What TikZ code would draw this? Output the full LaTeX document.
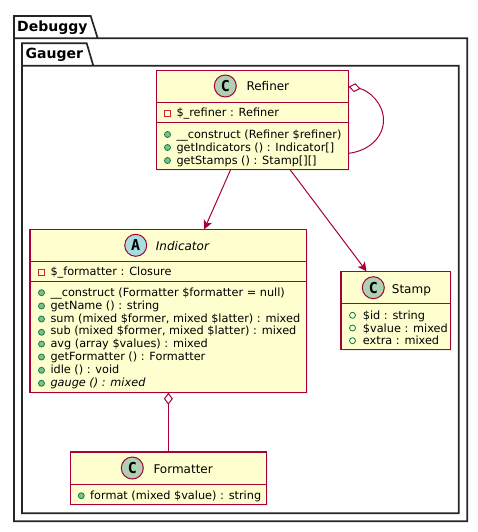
\documentclass[tikz,border=0pt]{standalone}
\usepackage{fontspec}
\setmainfont{DejaVu Sans}
\setmonofont{DejaVu Sans Mono}
\usetikzlibrary{arrows.meta}
\usetikzlibrary{shadows}
\definecolor{umlborder}{HTML}{A80036}
\definecolor{umlfill}{HTML}{FEFECE}
\definecolor{classspot}{HTML}{ADD1B2}
\definecolor{abstractspot}{HTML}{A9DCDF}
\definecolor{pubfill}{HTML}{84BE84}
\definecolor{publine}{HTML}{038048}
\definecolor{privline}{HTML}{C82930}
\tikzset{
	package/.style={draw=black!85, line width=1.7pt, line join=miter},
	packagename/.style={anchor=base west, inner sep=0pt, font=\fontsize{14}{14}\selectfont\bfseries},
	classbox/.style={draw=umlborder, fill=umlfill, line width=1.5pt, anchor=north west, outer sep=0pt, inner sep=0pt, drop shadow={shadow xshift=1.5pt, shadow yshift=-1.5pt, opacity=0.12}},
	classline/.style={draw=umlborder, line width=1.5pt},
	spot/.style={circle, draw=umlborder, line width=1pt, minimum size=22pt, inner sep=0pt, outer sep=0pt, font=\fontsize{15}{15}\selectfont\ttfamily\bfseries},
	classname/.style={anchor=base west, inner sep=0pt, font=\fontsize{12}{12}\selectfont},
	member/.style={anchor=base west, inner sep=0pt, font=\fontsize{11.3}{11.3}\selectfont},
	pubmark/.style={circle, draw=publine, fill=pubfill, line width=0.8pt, minimum size=6pt, inner sep=0pt},
	fieldmark/.style={circle, draw=publine, line width=0.8pt, minimum size=6pt, inner sep=0pt},
	privmark/.style={rectangle, draw=privline, line width=0.8pt, minimum size=6pt, inner sep=0pt},
	assoc/.style={draw=umlborder, line width=1pt, -{Stealth[length=9pt,width=9pt,inset=2.5pt]}},
	aggr/.style={draw=umlborder, line width=1pt, {Diamond[open,fill=white,length=12pt,width=9pt,line width=1pt]}-},
}
\begin{document}
\begin{tikzpicture}[x=1pt,y=-1pt]
	\useasboundingbox (0,0) rectangle (478,532);

	% packages
	\draw[package] (14,38.3) -- (14,16) -- (90.7,16) -- (97.7,38.3) -- (14,38.3) -- (14,521.3) -- (467.3,521.3) -- (467.3,38.3) -- (97.7,38.3);
	\node[packagename] (debuggyName) at (17,32) {Debuggy};
	\draw[package] (22,65.7) -- (22,43.3) -- (86.7,43.3) -- (93.3,65.7) -- (22,65.7) -- (22,513.3) -- (458.7,513.3) -- (458.7,65.7) -- (93.3,65.7);
	\node[packagename] (gaugerName) at (25.5,59) {Gauger};

	% Refiner
	\node[classbox, minimum width=192.2pt, minimum height=99pt] (Refiner) at (156.5,70.3) {};
	\draw[classline] ([yshift=-32pt]Refiner.north west) -- ([yshift=-32pt]Refiner.north east);
	\draw[classline] ([yshift=-52pt]Refiner.north west) -- ([yshift=-52pt]Refiner.north east);
	\node[spot, fill=classspot] (refinerSpot) at (225.3,86) {C};
	\node[classname] (refinerName) at (246.3,91) {Refiner};
	\node[privmark] (refinerM1) at (167.3,113.3) {};
	\node[member] (refinerT1) at (176.3,116.5) {\$\_refiner : Refiner};
	\node[pubmark] (refinerM2) at (167.5,134.5) {};
	\node[member] (refinerT2) at (176.3,138.5) {\_\_construct (Refiner \$refiner)};
	\node[pubmark] (refinerM3) at (167.5,147.5) {};
	\node[member] (refinerT3) at (176.3,151.5) {getIndicators () : Indicator[]};
	\node[pubmark] (refinerM4) at (167.5,160.5) {};
	\node[member] (refinerT4) at (176.3,164.5) {getStamps () : Stamp[][]};

	% Indicator
	\node[classbox, minimum width=276.7pt, minimum height=163.4pt] (Indicator) at (30,229.3) {};
	\draw[classline] ([yshift=-32pt]Indicator.north west) -- ([yshift=-32pt]Indicator.north east);
	\draw[classline] ([yshift=-52.4pt]Indicator.north west) -- ([yshift=-52.4pt]Indicator.north east);
	\node[spot, fill=abstractspot] (indicatorSpot) at (135.7,245.3) {A};
	\node[classname, font=\fontsize{12}{12}\selectfont\itshape] (indicatorName) at (155.7,250) {Indicator};
	\node[privmark] (indicatorM1) at (41.3,272.3) {};
	\node[member] (indicatorT1) at (50.3,275.5) {\$\_formatter : Closure};
	\node[pubmark] (indicatorM2) at (41.5,292.7) {};
	\node[member] (indicatorT2) at (50.3,296.5) {\_\_construct (Formatter \$formatter = null)};
	\node[pubmark] (indicatorM3) at (41.5,306) {};
	\node[member] (indicatorT3) at (50.3,309.5) {getName () : string};
	\node[pubmark] (indicatorM4) at (41.5,319) {};
	\node[member] (indicatorT4) at (50.3,322.5) {sum (mixed \$former, mixed \$latter) : mixed};
	\node[pubmark] (indicatorM5) at (41.5,332.3) {};
	\node[member] (indicatorT5) at (50.3,334.5) {sub (mixed \$former, mixed \$latter) : mixed};
	\node[pubmark] (indicatorM6) at (41.5,344) {};
	\node[member] (indicatorT6) at (50.3,347.5) {avg (array \$values) : mixed};
	\node[pubmark] (indicatorM7) at (41.5,357) {};
	\node[member] (indicatorT7) at (50.3,360.5) {getFormatter () : Formatter};
	\node[pubmark] (indicatorM8) at (41.5,370.3) {};
	\node[member] (indicatorT8) at (50.3,373.5) {idle () : void};
	\node[pubmark] (indicatorM9) at (41.5,383.3) {};
	\node[member, font=\fontsize{11.3}{11.3}\selectfont\itshape] (indicatorT9) at (50.3,386.5) {gauge () : mixed};

	% Stamp
	\node[classbox, minimum width=109.7pt, minimum height=78pt] (Stamp) at (341,271.3) {};
	\draw[classline] ([yshift=-32pt]Stamp.north west) -- ([yshift=-32pt]Stamp.north east);
	\node[spot, fill=classspot] (stampSpot) at (373.3,287.7) {C};
	\node[classname] (stampName) at (391.7,293) {Stamp};
	\node[fieldmark] (stampM1) at (352.5,315.3) {};
	\node[member] (stampT1) at (362.7,319.5) {\$id : string};
	\node[fieldmark] (stampM2) at (352.5,328) {};
	\node[member] (stampT2) at (362.7,332.5) {\$value : mixed};
	\node[fieldmark] (stampM3) at (352.5,340.7) {};
	\node[member] (stampT3) at (362.7,344.5) {extra : mixed};

	% Formatter
	\node[classbox, minimum width=196.4pt, minimum height=52.7pt] (Formatter) at (70.3,452) {};
	\draw[classline] ([yshift=-32.7pt]Formatter.north west) -- ([yshift=-32.7pt]Formatter.north east);
	\node[spot, fill=classspot] (formatterSpot) at (132.3,468) {C};
	\node[classname] (formatterName) at (153.3,473) {Formatter};
	\node[pubmark] (formatterM1) at (81.3,495.7) {};
	\node[member] (formatterT1) at (90,499.5) {format (mixed \$value) : string};

	% relations
	\coordinate (loopTop) at ([yshift=-16.4pt]Refiner.north east);
	\coordinate (loopEnd) at ([yshift=-83pt]Refiner.north east);
	\draw[assoc] (Refiner) -- (Indicator);
	\draw[assoc] (Refiner) -- (Stamp);
	\draw[aggr] (Indicator.south) -- (Indicator.south |- Formatter.north);
	\draw[aggr] (loopTop) .. controls (368,90) and (383.5,103) .. (383.5,120) .. controls (383.5,138) and (368,151) .. (loopEnd);
\end{tikzpicture}
\end{document}
